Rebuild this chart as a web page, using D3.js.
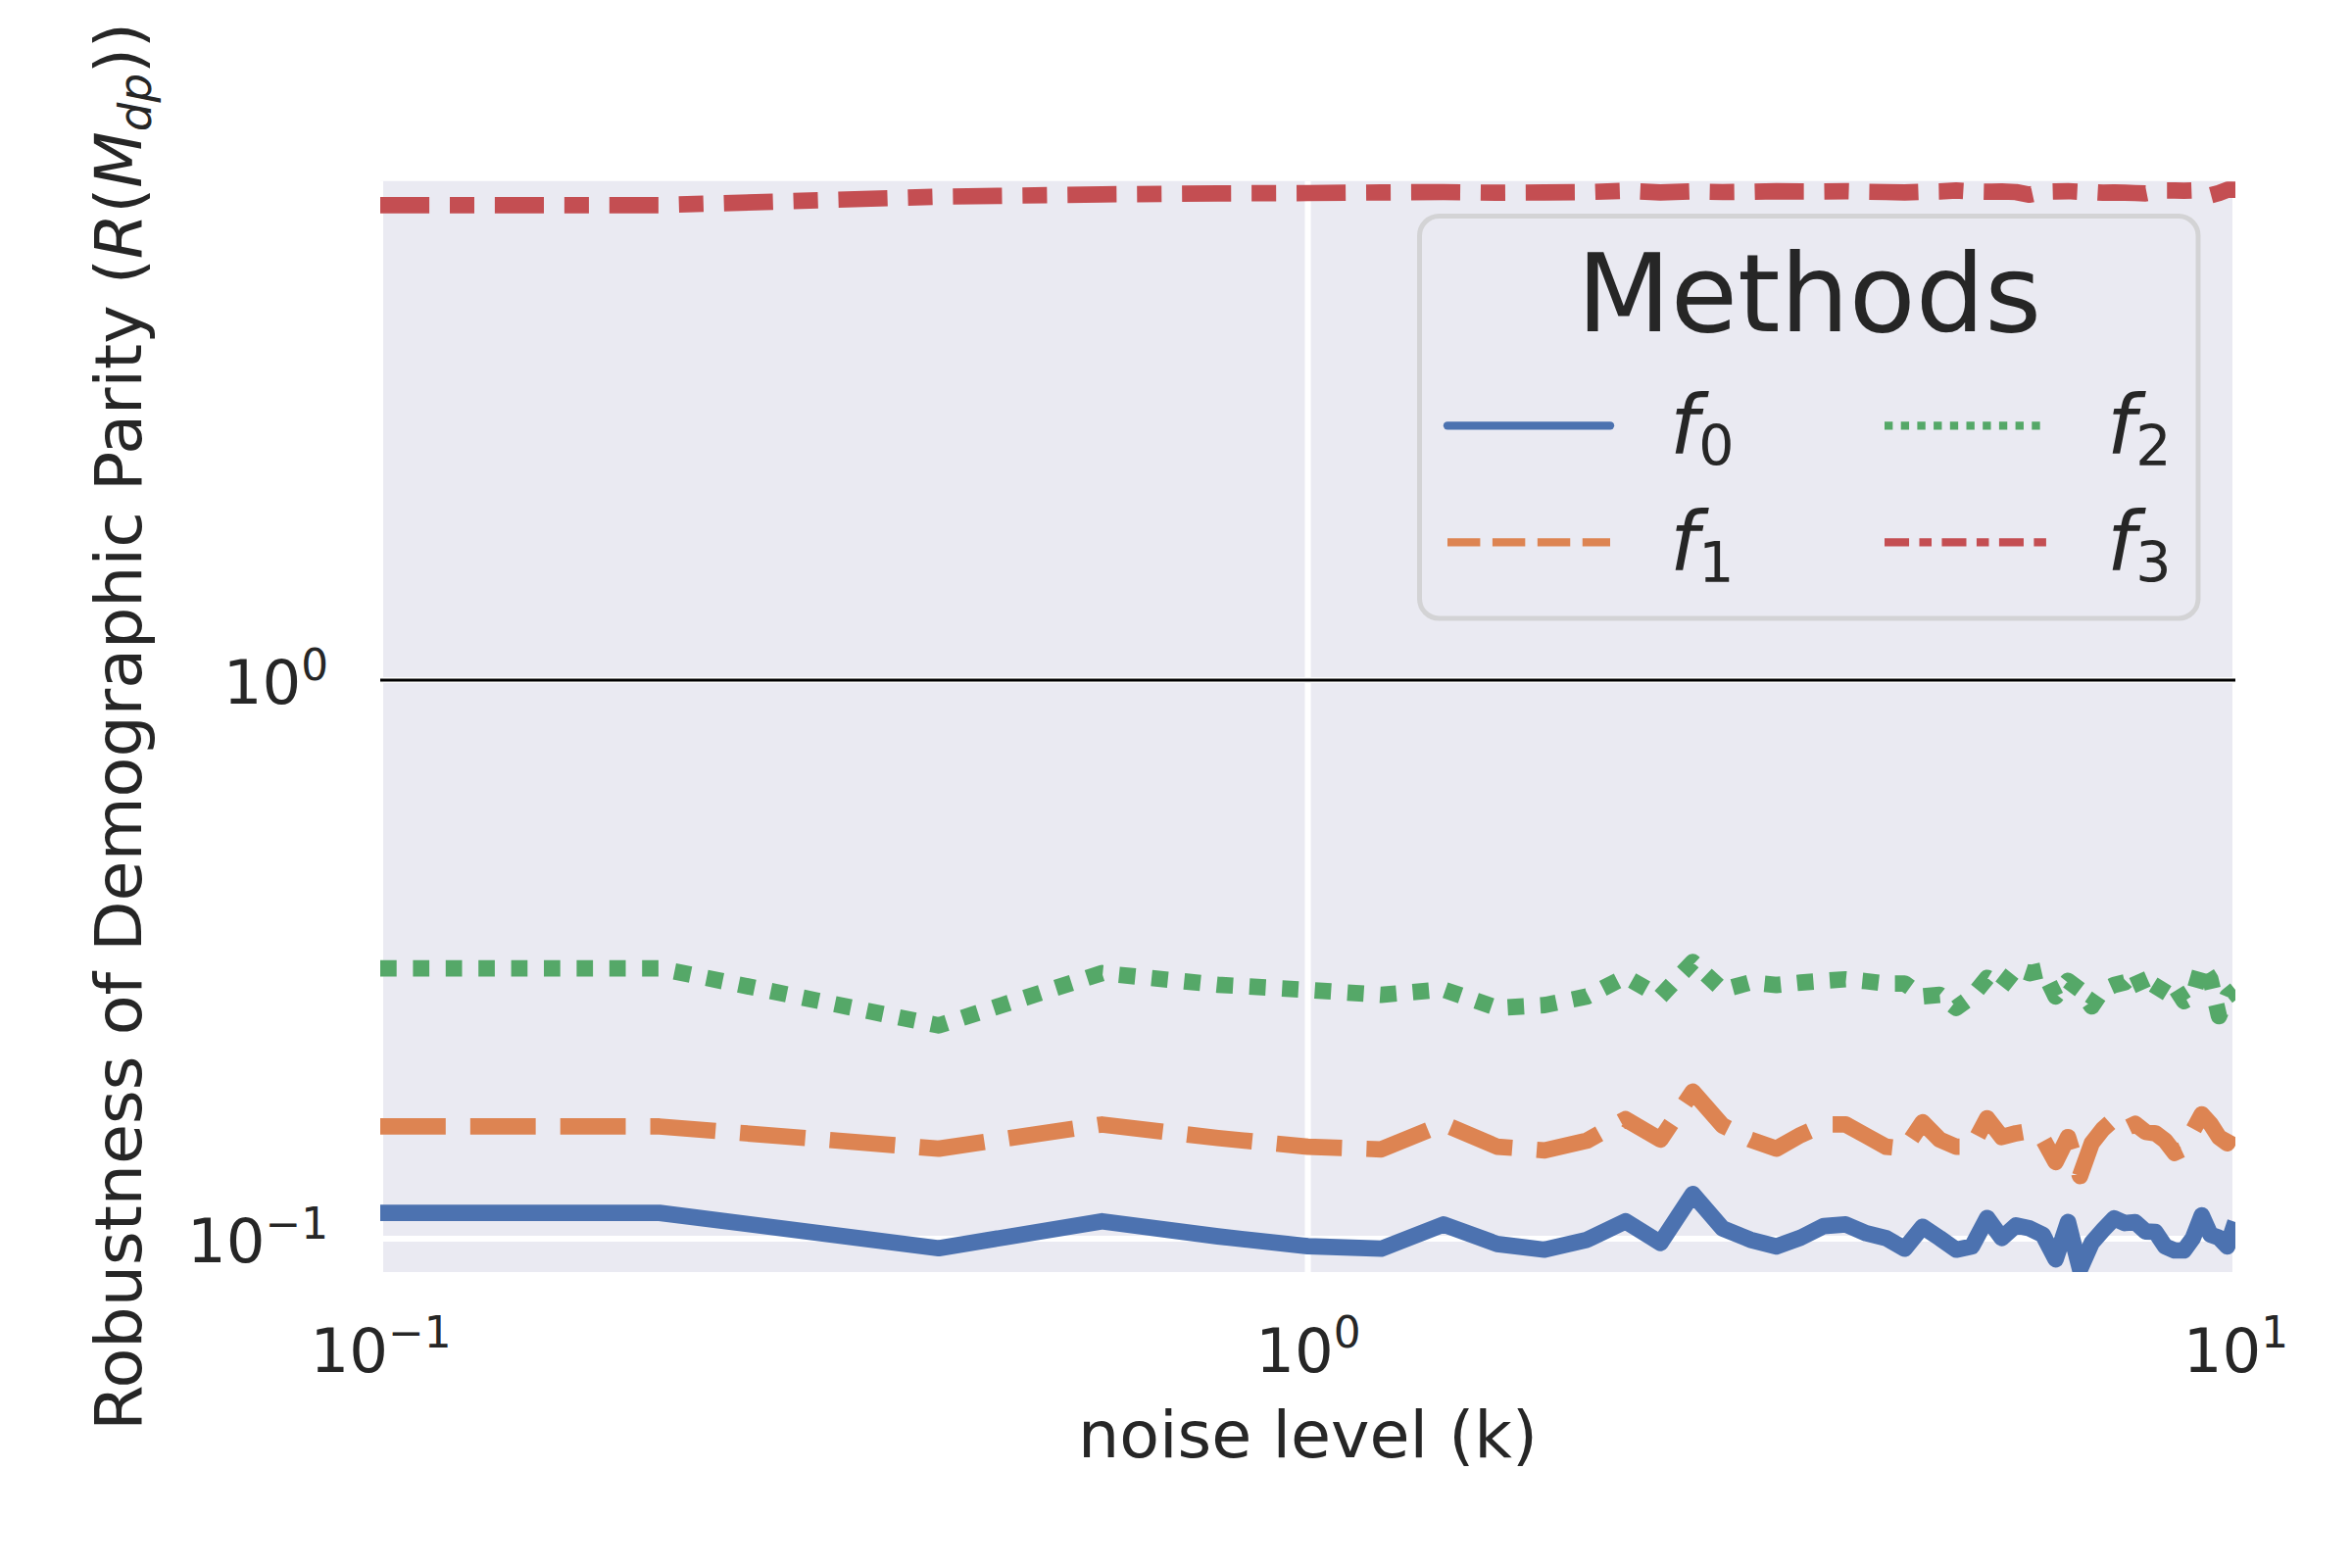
<!DOCTYPE html>
<html>
<head>
<meta charset="utf-8">
<script src="https://cdn.jsdelivr.net/npm/d3@7"></script>
<style>
  body { margin: 0; background: #fff; }
  svg { display: block; font-family: "DejaVu Sans", sans-serif; }
</style>
</head>
<body>
<svg id="chart" width="2400" height="1600"></svg>
<script>
// noise level k
const noise = [0.1, 0.2, 0.4, 0.6, 0.8, 1.0, 1.2, 1.4, 1.6, 1.8, 2.0, 2.2, 2.4, 2.6, 2.8, 3.0,
  3.2, 3.4, 3.6, 3.8, 4.0, 4.2, 4.4, 4.6, 4.8, 5.0, 5.2, 5.4, 5.6, 5.8, 6.0, 6.2, 6.4, 6.6,
  6.8, 7.0, 7.2, 7.4, 7.6, 7.8, 8.0, 8.2, 8.4, 8.6, 8.8, 9.0, 9.2, 9.4, 9.6, 9.8, 10.0];

const f0 = [0.1113, 0.1113, 0.0962, 0.1075, 0.1010, 0.0970, 0.0960, 0.1061, 0.0979, 0.0956,
  0.0996, 0.1075, 0.0983, 0.1203, 0.1044, 0.0996, 0.0969, 0.1005, 0.1054, 0.1061, 0.1023,
  0.1003, 0.0960, 0.1051, 0.1003, 0.0956, 0.0969, 0.1090, 0.1003, 0.1057, 0.1044, 0.1017,
  0.0919, 0.1072, 0.0882, 0.0983, 0.1037, 0.1088, 0.1067, 0.1071, 0.1031, 0.1029, 0.0969,
  0.0953, 0.0953, 0.1003, 0.1102, 0.1017, 0.1005, 0.0969, 0.1072];

const f1 = [0.1589, 0.1589, 0.1450, 0.1602, 0.1515, 0.1462, 0.1446, 0.1606, 0.1462, 0.1440,
  0.1499, 0.1638, 0.1505, 0.1835, 0.1595, 0.1505, 0.1450, 0.1535, 0.1602, 0.1602, 0.1529,
  0.1462, 0.1450, 0.1617, 0.1505, 0.1462, 0.1462, 0.1644, 0.1521, 0.1545, 0.1560, 0.1511,
  0.1372, 0.1521, 0.1295, 0.1482, 0.1573, 0.1638, 0.1573, 0.1606, 0.1554, 0.1545, 0.1499,
  0.1425, 0.1450, 0.1563, 0.1671, 0.1606, 0.1521, 0.1482, 0.1573];

const f2 = [0.305, 0.305, 0.241, 0.299, 0.285, 0.279, 0.2734, 0.2795, 0.259, 0.262,
  0.2716, 0.2944, 0.2716, 0.313, 0.279, 0.2878, 0.2847, 0.2875, 0.2897, 0.2915, 0.2891,
  0.2864, 0.2864, 0.2716, 0.2734, 0.259, 0.2716, 0.2933, 0.2828, 0.3045, 0.2989, 0.3026,
  0.2716, 0.2897, 0.279, 0.2607, 0.279, 0.2847, 0.2878, 0.3007, 0.2734, 0.2716, 0.2897,
  0.2828, 0.2663, 0.2716, 0.3086, 0.2915, 0.2504, 0.2716, 0.279];

const f3 = [7.09, 7.09, 7.34, 7.41, 7.44, 7.45, 7.47, 7.48, 7.46, 7.47, 7.48, 7.52, 7.47,
  7.50, 7.48, 7.49, 7.51, 7.50, 7.50, 7.51, 7.49, 7.48, 7.47, 7.49, 7.50, 7.53, 7.50, 7.49,
  7.50, 7.48, 7.40, 7.49, 7.50, 7.51, 7.49, 7.48, 7.46, 7.47, 7.46, 7.45, 7.44, 7.50, 7.53,
  7.53, 7.52, 7.53, 7.50, 7.38, 7.45, 7.55, 7.55];

const methodLabels = ["0", "1", "2", "3"];
const xTicks = [0.1, 1, 10];
const xTickExp = ["−1", "0", "1"];
const yTicks = [0.1, 1];
const yTickExp = ["−1", "0"];

const svg = d3.select("#chart");
const ink = "#262626";
const margin = {top: 184.7, right: 2400 - 2281, bottom: 1600 - 1298, left: 388};
const width = 2400 - margin.left - margin.right;
const height = 1600 - margin.top - margin.bottom;

const x = d3.scaleLog().domain([0.1, 10]).range([0, width]);
const y = d3.scaleLog().domain([0.0872, 7.83]).range([height, 0]);

const lw = 16.7;
const styles = [
  {color: "#4C72B0", dash: null},
  {color: "#DD8452", dash: [4, 1.5]},
  {color: "#55A868", dash: [1, 1]},
  {color: "#C44E52", dash: [3, 1.25, 1.5, 1.25]}
];
const series = [f0, f1, f2, f3];

const g = svg.append("g").attr("transform", "translate(" + margin.left + "," + margin.top + ")");

g.append("rect").attr("width", width).attr("height", height).attr("fill", "#EAEAF2");

svg.append("defs").append("clipPath").attr("id", "plotclip")
  .append("rect").attr("width", width).attr("height", height);

// grid
g.append("g").selectAll("line").data(xTicks).enter().append("line")
  .attr("x1", d => x(d)).attr("x2", d => x(d))
  .attr("y1", 0).attr("y2", height)
  .attr("stroke", "#fff").attr("stroke-width", 6);
g.append("g").selectAll("line").data(yTicks).enter().append("line")
  .attr("x1", 0).attr("x2", width)
  .attr("y1", d => y(d)).attr("y2", d => y(d))
  .attr("stroke", "#fff").attr("stroke-width", 6);

// reference line at 1
g.append("line")
  .attr("x1", 0).attr("x2", width)
  .attr("y1", y(1)).attr("y2", y(1))
  .attr("stroke", "#000").attr("stroke-width", 3);

// lines
let line = d3.line().x(d => x(d[0])).y(d => y(d[1]));
let lines = g.append("g").attr("clip-path", "url(#plotclip)");
series.forEach((s, i) => {
  lines.append("path")
    .datum(d3.zip(noise, s))
    .attr("d", line)
    .attr("fill", "none")
    .attr("stroke", styles[i].color)
    .attr("stroke-width", lw)
    .attr("stroke-linejoin", "round")
    .attr("stroke-dasharray", styles[i].dash ? styles[i].dash.map(v => v * lw).join(",") : null);
});

// axes
let xAxis = g.append("g").attr("transform", "translate(0," + height + ")")
  .call(d3.axisBottom(x).tickValues(xTicks).tickSize(0));
xAxis.select(".domain").remove();
xAxis.selectAll("text").each(function(d, i) {
  let t = d3.select(this).text(null).attr("y", 102).attr("dy", 0)
    .attr("font-size", 62.5).attr("fill", ink).attr("font-family", "DejaVu Sans");
  t.append("tspan").text("10");
  t.append("tspan").attr("dy", -25).attr("font-size", 43.75).text(xTickExp[i]);
});

let yAxis = g.append("g").call(d3.axisLeft(y).tickValues(yTicks).tickSize(0));
yAxis.select(".domain").remove();
yAxis.selectAll("text").each(function(d, i) {
  let t = d3.select(this).text(null).attr("x", -53).attr("y", 23).attr("dy", 0)
    .attr("font-size", 62.5).attr("fill", ink).attr("font-family", "DejaVu Sans");
  t.append("tspan").text("10");
  t.append("tspan").attr("dy", -24).attr("font-size", 43.75).text(yTickExp[i]);
});

// axis labels
svg.append("text")
  .attr("x", margin.left + width / 2).attr("y", 1487)
  .attr("text-anchor", "middle").attr("font-size", 66.7).attr("fill", ink)
  .text("noise level (k)");

let yl = svg.append("text")
  .attr("transform", "translate(144," + (margin.top + height / 2) + ") rotate(-90)")
  .attr("text-anchor", "middle").attr("font-size", 66.7).attr("fill", ink);
yl.append("tspan").text("Robustness of Demographic Parity (");
yl.append("tspan").attr("font-style", "italic").text("R");
yl.append("tspan").text("(");
yl.append("tspan").attr("font-style", "italic").text("M");
yl.append("tspan").attr("font-style", "italic").attr("font-size", 46.7).attr("dy", 10).text("dp");
yl.append("tspan").attr("dy", -10).text("))");

// legend
let legend = svg.append("g");
legend.append("rect")
  .attr("x", 1448.5).attr("y", 220.5).attr("width", 794.5).attr("height", 410.5)
  .attr("rx", 20).attr("fill", "#EAEAF2").attr("stroke", "#d3d3d5").attr("stroke-width", 5);
legend.append("text")
  .attr("x", 1846).attr("y", 338).attr("text-anchor", "middle")
  .attr("font-size", 111).attr("fill", ink).text("Methods");

let items = legend.selectAll(".item").data(methodLabels).enter().append("g")
  .attr("class", "item")
  .attr("transform", (d, i) => "translate(" + (i < 2 ? 0 : 446) + "," + (i % 2) * 119 + ")");
items.append("line")
  .attr("x1", 1477).attr("x2", 1643).attr("y1", 434.3).attr("y2", 434.3)
  .attr("stroke", (d, i) => styles[i].color)
  .attr("stroke-width", lw / 2)
  .attr("stroke-linecap", (d, i) => styles[i].dash ? "butt" : "round")
  .attr("stroke-dasharray", (d, i) => styles[i].dash ? styles[i].dash.map(v => v * lw / 2).join(",") : null);
let lab = items.append("text")
  .attr("x", 1704).attr("y", 463).attr("font-size", 83.3).attr("fill", ink);
lab.append("tspan").attr("font-style", "italic").text("f");
lab.append("tspan").attr("dy", 12).attr("font-size", 57).text(d => d);
</script>
</body>
</html>
